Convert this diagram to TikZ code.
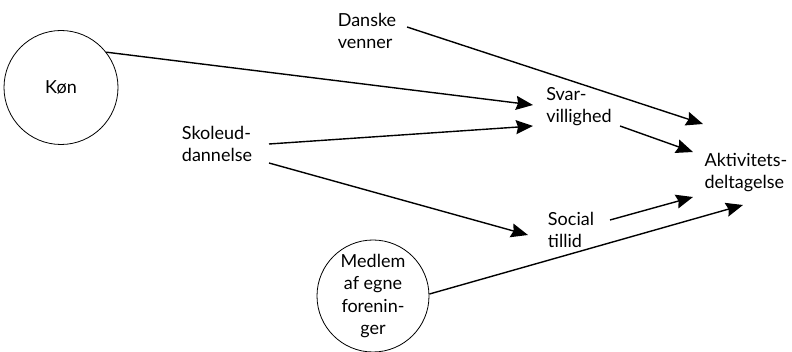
\documentclass[tikz,border=0pt]{standalone}
\usepackage{fontspec}
\setmainfont{Lato}
\usetikzlibrary{arrows.meta}
\begin{document}
\begin{tikzpicture}[x=1pt,y=-1pt,
  lbl/.style={inner sep=0pt,align=left,font=\fontsize{18}{22}\selectfont},
  ring/.style={draw,circle,line width=0.8pt,inner sep=0pt,align=center,font=\fontsize{18}{22.5}\selectfont},
  link/.style={line width=1.4pt,-{Stealth[length=17pt,width=14pt,inset=2pt]}}]
\useasboundingbox (0,0) rectangle (792,352);

% variables
\node[ring,minimum size=114pt] (kon) at (61,87.5) {Køn};
\node[ring,minimum size=112pt] (medlem) at (373,296) {Medlem\\af egne\\forenin-\\ger};
\node[lbl] (danske) at (367,31) {Danske\\venner};
\node[lbl] (skole) at (217,144) {Skoleud-\\dannelse};
\node[lbl] (svar) at (579,107) {Svar-\\villighed};
\node[lbl] (social) at (571,230) {Social\\tillid};
\node[lbl] (aktiv) at (746,173) {Aktivitets-\\deltagelse};

% effects
\draw[link] (kon.38) -- ([shift={(-46,-2)}]svar.center);
\draw[link] ([shift={(52,0)}]skole.center) -- ([shift={(-46,19)}]svar.center);
\draw[link] ([shift={(52,19)}]skole.center) -- ([shift={(-43,5)}]social.center);
\draw[link] ([shift={(40,-4)}]danske.center) -- ([shift={(-43,-49)}]aktiv.center);
\draw[link] ([shift={(41,19)}]svar.center) -- ([shift={(-53,-21)}]aktiv.center);
\draw[link] ([shift={(39,-10)}]social.center) -- ([shift={(-53,24)}]aktiv.center);
\draw[link] (medlem.2) -- ([shift={(-3,32)}]aktiv.center);
\end{tikzpicture}
\end{document}
